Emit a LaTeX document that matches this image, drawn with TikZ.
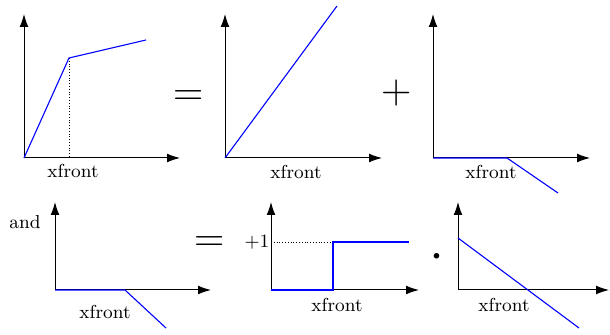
\documentclass[tikz,border=0pt]{standalone}
\usepackage{tikz}
\usetikzlibrary{arrows.meta}

\begin{document}
\begin{tikzpicture}[
  x=0.5pt, y=-0.5pt,
  every node/.style={font=\fontsize{9.4}{11}\selectfont, inner sep=0pt},
  axis/.style={-{Latex[length=6.5pt,width=4.4pt]}, line width=0.5pt},
  curve/.style={blue, line width=0.55pt},
  guide/.style={densely dotted, line width=0.4pt},
  bigsym/.style={font=\fontsize{21}{21}\selectfont, anchor=base}
]
  \useasboundingbox (0,0) rectangle (610,335);

  % top row
  \coordinate (o1) at (24,158);  \coordinate (y1) at (24,14);  \coordinate (x1) at (180,158);
  \coordinate (k1) at (69,58);   \coordinate (f1) at (69,158); \coordinate (e1) at (146,40);
  \coordinate (o2) at (225,158); \coordinate (y2) at (225,14); \coordinate (x2) at (382,158);
  \coordinate (e2) at (337,6);
  \coordinate (o3) at (433,158); \coordinate (y3) at (433,14); \coordinate (x3) at (590,158);
  \coordinate (k3) at (507,158); \coordinate (e3) at (558,193);

  % bottom row
  \coordinate (o4) at (55,290);  \coordinate (y4) at (55,202);  \coordinate (x4) at (211,290);
  \coordinate (k4) at (125,290); \coordinate (e4) at (166,328);
  \coordinate (o5) at (271,290); \coordinate (y5) at (271,202); \coordinate (x5) at (419,290);
  \coordinate (k5) at (333,290); \coordinate (u5) at (333,242); \coordinate (e5) at (409,242);
  \coordinate (p5) at (271,242);
  \coordinate (o6) at (458,290); \coordinate (y6) at (458,202); \coordinate (x6) at (609,290);
  \coordinate (s6) at (458,238); \coordinate (e6) at (579,328);

  \foreach \i in {1,...,6} {
    \draw[axis] (o\i) -- (y\i);
    \draw[axis] (o\i) -- (x\i);
  }

  \draw[guide] (k1) -- (f1);
  \draw[curve] (o1) -- (k1) -- (e1);
  \draw[curve] (o2) -- (e2);
  \draw[curve] (o3) -- (k3) -- (e3);
  \draw[curve] (o4) -- (k4) -- (e4);
  \draw[guide] (p5) -- (u5);
  \draw[curve] (o5) -- (k5) -- (u5) -- (e5);
  \draw[curve] (s6) -- (e6);

  \node (xf1) at (73,171)  {xfront};
  \node (xf2) at (296,172) {xfront};
  \node (xf3) at (491,172) {xfront};
  \node (xf4) at (105,312) {xfront};
  \node (xf5) at (337,305) {xfront};
  \node (xf6) at (504,305) {xfront};
  \node (and) at (25,222)  {and};
  \node (one) at (257,242) {+1};

  \node[bigsym] (eq1)  at (189,106) {=};
  \node[bigsym] (plus) at (397,103.5) {+};
  \node[bigsym] (eq2)  at (209.5,252) {=};
  \node[bigsym, font=\fontsize{34}{34}\selectfont] (dot) at (437,280) {·};
\end{tikzpicture}
\end{document}
